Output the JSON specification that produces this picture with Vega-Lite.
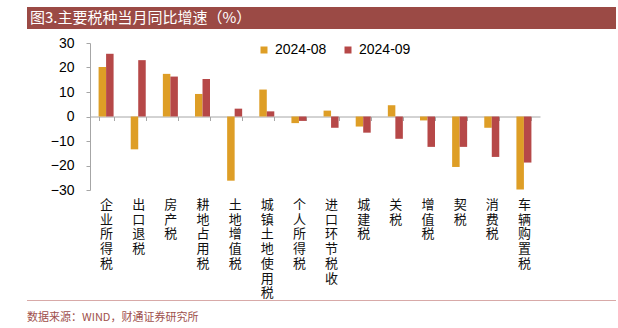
{
  "$schema": "https://vega.github.io/schema/vega-lite/v6.json",
  "padding": {"left": 27, "top": 7, "right": 0, "bottom": 0},
  "background": "white",
  "config": {"view": {"stroke": null}, "font": "Liberation Sans"},
  "spacing": 7,
  "resolve": {"legend": {"color": "independent"}},
  "vconcat": [
    {
      "width": 589,
      "height": 22,
      "view": {"fill": "#9B4A45", "stroke": null},
      "data": {"values": [{"t": "图3.主要税种当月同比增速（%）"}]},
      "mark": {"type": "text", "x": 3, "y": 11, "align": "left", "baseline": "middle", "color": "white", "fontSize": 15, "font": "Noto Sans CJK SC"},
      "encoding": {"text": {"field": "t"}}
    },
    {
      "spacing": -7,
      "resolve": {"legend": {"color": "independent"}},
      "vconcat": [
        {
          "spacing": 0,
          "resolve": {"legend": {"color": "independent"}},
          "hconcat": [
            {
              "width": 1,
              "height": 147,
              "data": {"values": [{"s": ""}]},
              "mark": {"type": "text"},
              "encoding": {"text": {"field": "s"}}
            },
            {
              "width": 450,
              "height": 147,
              "data": {
                "values": [
                  {"cat": "企业所得税", "series": "2024-08", "v": 20.2},
                  {"cat": "企业所得税", "series": "2024-09", "v": 25.6},
                  {"cat": "出口退税", "series": "2024-08", "v": -13.4},
                  {"cat": "出口退税", "series": "2024-09", "v": 23.0},
                  {"cat": "房产税", "series": "2024-08", "v": 17.4},
                  {"cat": "房产税", "series": "2024-09", "v": 16.3},
                  {"cat": "耕地占用税", "series": "2024-08", "v": 9.2},
                  {"cat": "耕地占用税", "series": "2024-09", "v": 15.3},
                  {"cat": "土地增值税", "series": "2024-08", "v": -26.2},
                  {"cat": "土地增值税", "series": "2024-09", "v": 3.2},
                  {"cat": "城镇土地使用税", "series": "2024-08", "v": 11.0},
                  {"cat": "城镇土地使用税", "series": "2024-09", "v": 2.1},
                  {"cat": "个人所得税", "series": "2024-08", "v": -2.7},
                  {"cat": "个人所得税", "series": "2024-09", "v": -1.8},
                  {"cat": "进口环节税收", "series": "2024-08", "v": 2.4},
                  {"cat": "进口环节税收", "series": "2024-09", "v": -4.6},
                  {"cat": "城建税", "series": "2024-08", "v": -4.1},
                  {"cat": "城建税", "series": "2024-09", "v": -6.6},
                  {"cat": "关税", "series": "2024-08", "v": 4.6},
                  {"cat": "关税", "series": "2024-09", "v": -9.1},
                  {"cat": "增值税", "series": "2024-08", "v": -1.6},
                  {"cat": "增值税", "series": "2024-09", "v": -12.4},
                  {"cat": "契税", "series": "2024-08", "v": -20.6},
                  {"cat": "契税", "series": "2024-09", "v": -12.4},
                  {"cat": "消费税", "series": "2024-08", "v": -4.6},
                  {"cat": "消费税", "series": "2024-09", "v": -16.5},
                  {"cat": "车辆购置税", "series": "2024-08", "v": -29.8},
                  {"cat": "车辆购置税", "series": "2024-09", "v": -18.8}
                ]
              },
              "mark": {"type": "bar"},
              "encoding": {
                "x": {
                  "field": "cat",
                  "type": "nominal",
                  "sort": null,
                  "scale": {"paddingInner": 0.533, "paddingOuter": 0.267},
                  "axis": {
                    "title": null,
                    "offset": -73.5,
                    "domainColor": "#A6A6A6",
                    "tickColor": "#A6A6A6",
                    "tickSize": 4,
                    "tickBand": "extent",
                    "labelAngle": 0,
                    "labelAlign": "center",
                    "labelBaseline": "top",
                    "labelPadding": 78,
                    "labelExpr": "split(datum.label, '')",
                    "labelLineHeight": 14.7,
                    "labelFontSize": 13,
                    "labelFont": "Noto Sans CJK SC",
                    "labelColor": "#111111",
                    "labelOverlap": false
                  }
                },
                "xOffset": {"field": "series", "type": "nominal", "scale": {"paddingInner": 0, "paddingOuter": 0}},
                "y": {
                  "field": "v",
                  "type": "quantitative",
                  "scale": {"domain": [-30, 30], "nice": false},
                  "axis": {
                    "title": null,
                    "values": [-30, -20, -10, 0, 10, 20, 30],
                    "grid": false,
                    "domainColor": "#A6A6A6",
                    "tickColor": "#A6A6A6",
                    "tickSize": 4,
                    "labelPadding": 12,
                    "labelFontSize": 14,
                    "labelColor": "#000000",
                    "minExtent": 62
                  }
                },
                "color": {
                  "field": "series",
                  "type": "nominal",
                  "scale": {"domain": ["2024-08", "2024-09"], "range": ["#DE9E26", "#B64848"]},
                  "legend": {
                    "title": null,
                    "orient": "none",
                    "direction": "horizontal",
                    "legendX": 167,
                    "legendY": 0,
                    "symbolType": "square",
                    "symbolSize": 49,
                    "symbolStrokeWidth": 0,
                    "labelFontSize": 14,
                    "labelColor": "#000000",
                    "labelOffset": 4,
                    "columnPadding": 14
                  }
                }
              }
            }
          ]
        },
        {
          "width": 589,
          "height": 1,
          "view": {"fill": "#D8AAA8", "stroke": null},
          "title": {
            "text": "数据来源：WIND，财通证券研究所",
            "orient": "bottom",
            "anchor": "start",
            "offset": 6,
            "fontSize": 11,
            "fontWeight": "normal",
            "font": "Noto Sans CJK SC",
            "color": "#A0504C"
          },
          "data": {"values": [{"s": ""}]},
          "mark": {"type": "text"},
          "encoding": {"text": {"field": "s"}}
        }
      ]
    }
  ]
}
